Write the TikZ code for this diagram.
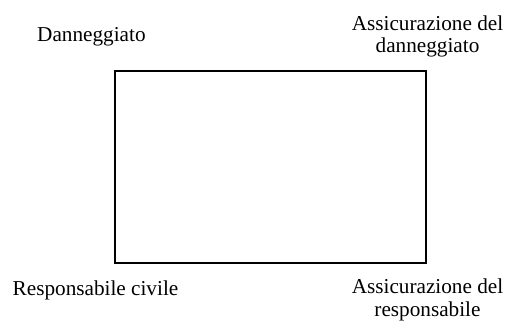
\documentclass[tikz,border=0pt]{standalone}
\usepackage{fontspec}
\setmainfont{Liberation Serif}
\begin{document}
\begin{tikzpicture}[x=1bp,y=-1bp,
  lbl/.style={inner sep=0pt, font=\fontsize{21.3}{23}\selectfont},
  frame/.style={draw=black, line width=1.8bp}]
\useasboundingbox (0,0) rectangle (511,320);
\path[frame] (115,71) rectangle (426,263);
\node[lbl, anchor=base west] (dan) at (37,41.7) {Danneggiato};
\node[lbl, anchor=base] (assdan) at (427.5,30) {\begin{tabular}[t]{@{}c@{}}Assicurazione del\\danneggiato\end{tabular}};
\node[lbl, anchor=base west] (resp) at (12.5,295) {Responsabile civile};
\node[lbl, anchor=base] (assresp) at (427.5,293.3) {\begin{tabular}[t]{@{}c@{}}Assicurazione del\\responsabile\end{tabular}};
\end{tikzpicture}
\end{document}
